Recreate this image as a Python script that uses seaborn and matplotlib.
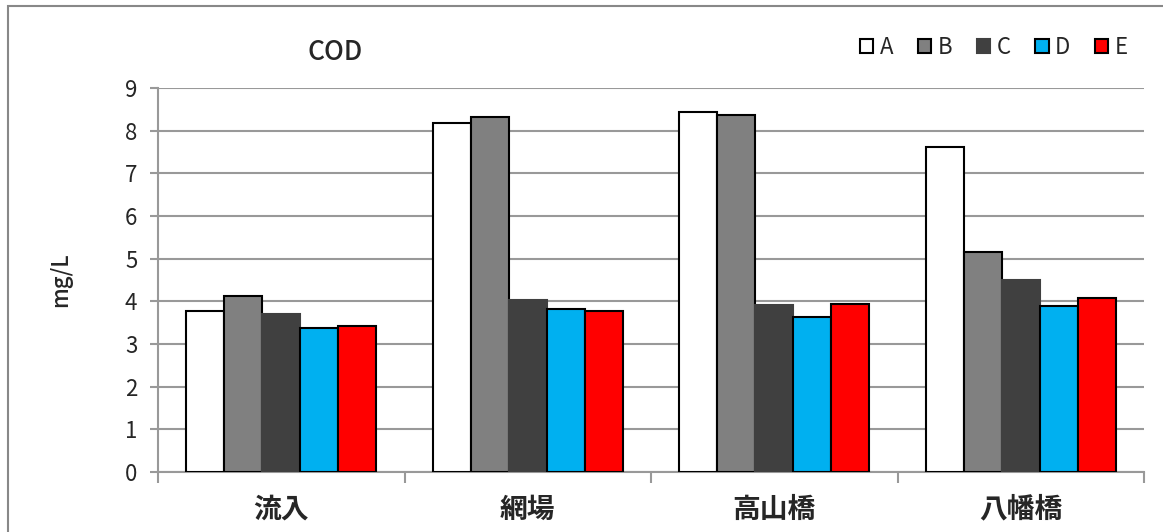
import pandas as pd
import numpy as np
import matplotlib.pyplot as plt
import seaborn as sns
from matplotlib.patches import Patch, Rectangle

# data
sites = ["流入", "網場", "高山橋", "八幡橋"]
series = ["A", "B", "C", "D", "E"]
val_a = [3.77, 8.18, 8.43, 7.62]
val_b = [4.13, 8.31, 8.36, 5.15]
val_c = [3.70, 4.03, 3.91, 4.51]
val_d = [3.37, 3.81, 3.63, 3.88]
val_e = [3.42, 3.77, 3.94, 4.07]
colors = ["#FFFFFF", "#808080", "#404040", "#00B0F0", "#FF0000"]
edges = ["black", "black", "#404040", "black", "black"]

df = pd.DataFrame({
    "site": sites * 5,
    "series": np.repeat(series, len(sites)),
    "value": val_a + val_b + val_c + val_d + val_e,
})

sns.set_theme(style="white")
plt.rcParams["font.family"] = ["Noto Sans CJK JP", "DejaVu Sans"]

fig = plt.figure(figsize=(11.63, 5.32), dpi=100)
ax = fig.add_axes([0.1359, 0.1128, 0.8478, 0.7218])

sns.barplot(data=df, x="site", y="value", hue="series", order=sites,
            hue_order=series, palette=dict(zip(series, colors)),
            width=0.77, gap=0, ax=ax, legend=False, saturation=1)

for cont, ec in zip(ax.containers, edges):
    for bar in cont:
        bar.set_edgecolor(ec)
        bar.set_linewidth(1.5)
        bar.set_zorder(3)

ax.set_ylim(0, 9)
ax.set_xlim(-0.5, 3.5)
ax.set_yticks(range(0, 10))
ax.yaxis.grid(True, color="#999999", linewidth=1.5, zorder=0)
ax.set_axisbelow(True)
for s in ["top", "right"]:
    ax.spines[s].set_visible(False)
for s in ["left", "bottom"]:
    ax.spines[s].set_color("#999999")
    ax.spines[s].set_linewidth(1.5)

ax.tick_params(axis="y", which="major", direction="out", length=6,
               color="#999999", width=1.5, labelsize=16, pad=9, left=True)
ax.tick_params(axis="x", which="major", length=0, labelsize=20, pad=17)
for lbl in ax.get_xticklabels():
    lbl.set_fontweight("semibold")
ax.set_xticks(np.arange(-0.5, 4, 1), minor=True)
ax.tick_params(axis="x", which="minor", direction="out", length=8,
               color="#999999", width=1.5, bottom=True)
ax.set_xlabel("")
ax.set_ylabel("mg/L", fontsize=16, labelpad=38, fontweight="medium")

fig.text(335 / 1163, 1 - 52 / 532, "COD", fontsize=19, ha="center", va="center",
         fontweight="medium")

handles = [Patch(facecolor=c, edgecolor=e, linewidth=1.5) for c, e in zip(colors, edges)]
fig.legend(handles, series, ncol=5, loc="center right",
           bbox_to_anchor=(1128 / 1163, 1 - 47 / 532), frameon=False,
           handlelength=0.6, handleheight=0.6, handletextpad=0.3,
           columnspacing=1.1, fontsize=16, borderpad=0, borderaxespad=0)

fig.patches.append(Rectangle((7.5 / 1163, -0.1), 1.2, 0.9878 + 0.1,
                             transform=fig.transFigure, fill=False,
                             edgecolor="#888888", linewidth=1.5))

fig.savefig("out.png", dpi=100)
